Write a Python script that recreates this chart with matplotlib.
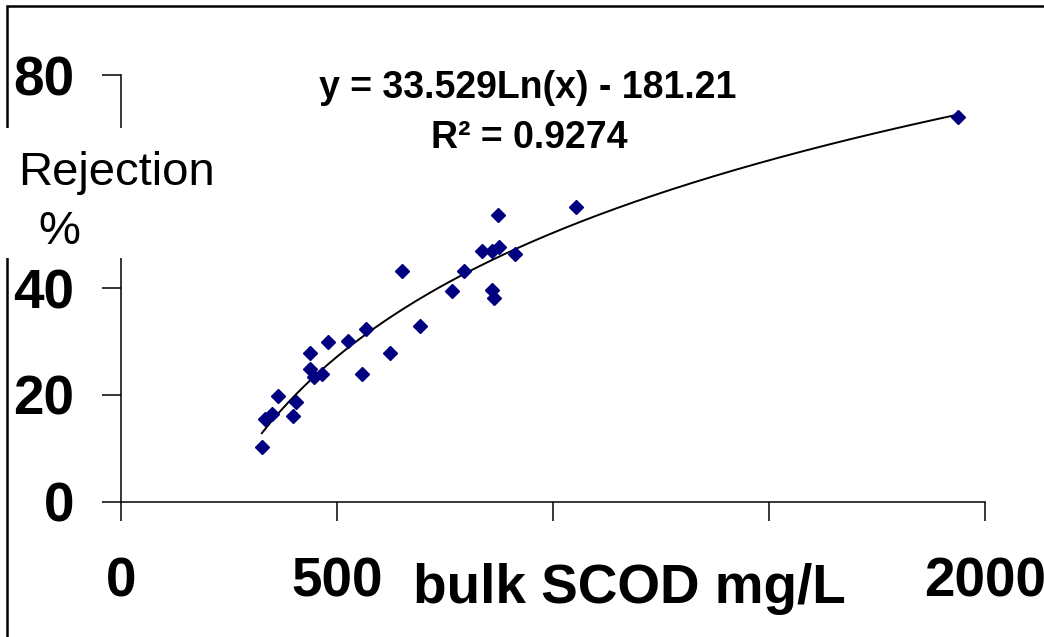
import numpy as np
import matplotlib.pyplot as plt
from matplotlib.patches import Rectangle

# bulk SCOD (mg/L) vs rejection (%)
scod = [326, 333, 349, 364, 397, 404, 437, 437, 447, 466, 480, 526, 559, 566,
        623, 650, 691, 767, 794, 835, 859, 874, 859, 864, 873, 912, 1053, 1938]
rejection = [10.3, 15.5, 16.4, 19.8, 16.1, 18.6, 27.8, 24.9, 23.4, 24.0, 30.0,
             30.1, 24.0, 32.4, 27.8, 43.2, 33.0, 39.5, 43.2, 47.0, 47.0, 47.8,
             39.7, 38.2, 53.7, 46.4, 55.2, 72.1]

# log trendline shown on the chart
fit_a = 33.529
fit_b = -181.21
fit_r2 = 0.9274

x_ticks = [0, 500, 1000, 1500, 2000]
x_ticklabels = ['0', '500', '', '', '2000']
y_ticks = [0, 20, 40, 60, 80]
y_ticklabels = ['0', '20', '40', '', '80']

plt.rcParams['font.family'] = ['Liberation Sans', 'DejaVu Sans']

W, H = 1044, 637
fig = plt.figure(figsize=(W / 100, H / 100), dpi=100)
ax = fig.add_axes([121 / W, 1 - 501.5 / H, 864 / W, 426.5 / H])

ax.plot(scod, rejection, linestyle='none', marker='D', ms=7,
        color='#000080', zorder=3)

xf = np.linspace(min(scod), max(scod), 300)
ax.plot(xf, fit_a * np.log(xf) + fit_b, color='black', lw=1.4, zorder=2)

ax.set_xlim(0, 2000)
ax.set_ylim(0, 80)
ax.set_xticks(x_ticks)
ax.set_xticklabels(x_ticklabels)
ax.set_yticks(y_ticks)
ax.set_yticklabels(y_ticklabels)
for s in ['top', 'right']:
    ax.spines[s].set_visible(False)
for s in ['left', 'bottom']:
    ax.spines[s].set_linewidth(1.1)
ax.tick_params(axis='x', direction='out', length=13.5, width=1.1, pad=26,
               labelsize=39.5)
ax.tick_params(axis='y', direction='out', length=13.5, width=1.1, pad=20,
               labelsize=39.5)
for lab in ax.get_xticklabels() + ax.get_yticklabels():
    lab.set_fontweight('bold')

# outer frame of the chart area
fig.patches.append(Rectangle((7 / W, -0.1), 1.2, 1.1 - 6 / H, fill=False,
                             edgecolor='black', lw=1.8,
                             transform=fig.transFigure, zorder=1))
# white box behind the y-axis title
fig.patches.append(Rectangle((0, 1 - 258 / H), 215 / W, 130 / H,
                             facecolor='white', edgecolor='none',
                             transform=fig.transFigure, zorder=2))

fig.text(18 / W, 1 - 185 / H, 'Rejection', fontsize=34, ha='left',
         va='baseline', zorder=3)
fig.text(38 / W, 1 - 244 / H, '%', fontsize=34, ha='left',
         va='baseline', zorder=3)

fig.text(629 / W, 1 - 589 / H, 'bulk SCOD mg/L', fontsize=39.5,
         fontweight='bold', ha='center', va='center', zorder=3)

fig.text(528 / W, 1 - 98 / H, 'y = %.3fLn(x) - %.2f' % (fit_a, -fit_b),
         fontsize=27, fontweight='bold', ha='center', va='baseline')
fig.text(529 / W, 1 - 148 / H, 'R² = %.4f' % fit_r2,
         fontsize=27, fontweight='bold', ha='center', va='baseline')

fig.savefig('out.png', dpi=100)
